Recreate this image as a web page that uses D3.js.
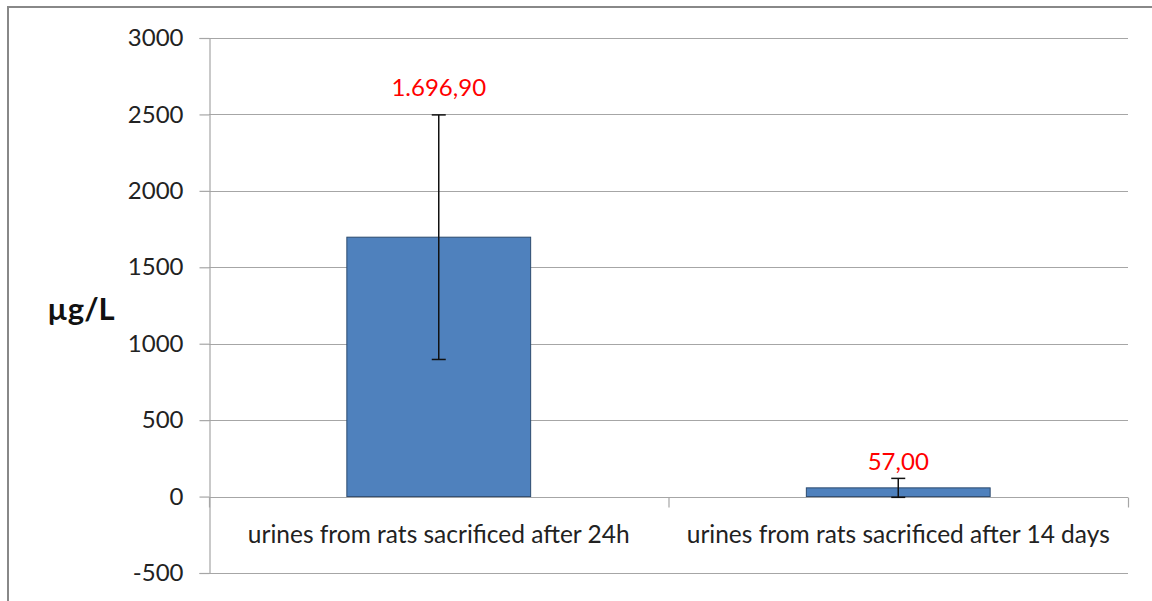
<!DOCTYPE html>
<html><head><meta charset="utf-8">
<script src="https://cdn.jsdelivr.net/npm/d3@7"></script>
<style>
html,body{margin:0;padding:0;background:#fff;}
svg{display:block;}
text{font-family:Lato,"Open Sans",sans-serif;fill:#222;}
</style></head>
<body><svg id="c" width="1152" height="601"></svg>
<script>
const categories = ["urines from rats sacrificed after 24h", "urines from rats sacrificed after 14 days"];
const values = [1696.9, 57.0];
const errors = [800, 62];
const valueLabels = ["1.696,90", "57,00"];
const yTicks = [-500, 0, 500, 1000, 1500, 2000, 2500, 3000];
const yLabel = "µg/L";

(function () {
const svg = d3.select("#c");
const pLeft = 209, pRight = 1128, pTop = 38, pBottom = 573;
const labelGap = [19, 8];

svg.append("rect").attr("x", 8).attr("y", 7).attr("width", 1160).attr("height", 620)
  .attr("fill", "none").attr("stroke", "#888").attr("stroke-width", 2);

const y = d3.scaleLinear().domain([-500, 3000]).range([pBottom, pTop]);
const x = d3.scaleBand().domain(categories).range([pLeft, pRight]).paddingInner(0).paddingOuter(0);
const barW = x.bandwidth() * 0.4;

svg.append("g").selectAll("line").data(yTicks).join("line")
  .attr("x1", pLeft).attr("x2", pRight)
  .attr("y1", d => Math.round(y(d)) + 0.5).attr("y2", d => Math.round(y(d)) + 0.5)
  .attr("stroke", "#a6a6a6").attr("stroke-width", 1.2);

const yAxis = d3.axisLeft(y).tickValues(yTicks).tickSize(10).tickPadding(16).tickFormat(d => String(d));
const ga = svg.append("g").attr("transform", `translate(${pLeft + 0.5},0)`).call(yAxis);
ga.select(".domain").attr("stroke", "#a6a6a6").attr("stroke-width", 1.2);
ga.selectAll(".tick line").attr("stroke", "#a6a6a6").attr("stroke-width", 1.2);
ga.selectAll(".tick text").style("font-size", "24px").style("font-family", "Lato,'Open Sans',sans-serif").attr("fill", "#222");

const y0 = Math.round(y(0)) + 0.5;
svg.append("g").selectAll("line").data([pLeft, pLeft + x.bandwidth(), pRight]).join("line")
  .attr("x1", d => d + 0.5).attr("x2", d => d + 0.5).attr("y1", y0).attr("y2", y0 + 10)
  .attr("stroke", "#a6a6a6").attr("stroke-width", 1.2);

svg.append("g").selectAll("rect").data(values).join("rect")
  .attr("x", (d, i) => x(categories[i]) + (x.bandwidth() - barW) / 2)
  .attr("width", barW)
  .attr("y", d => y(Math.max(d, 0)))
  .attr("height", d => Math.abs(y(d) - y(0)))
  .attr("fill", "#4f81bd").attr("stroke", "#2c4a6e").attr("stroke-width", 1);

const eb = svg.append("g").attr("stroke", "#111").attr("stroke-width", 1.5);
values.forEach((v, i) => {
  const cx = x(categories[i]) + x.bandwidth() / 2;
  const yt = y(v + errors[i]), yb = y(v - errors[i]);
  eb.append("line").attr("x1", cx).attr("x2", cx).attr("y1", yt).attr("y2", yb);
  eb.append("line").attr("x1", cx - 7).attr("x2", cx + 7).attr("y1", yt).attr("y2", yt);
  eb.append("line").attr("x1", cx - 7).attr("x2", cx + 7).attr("y1", yb).attr("y2", yb);
});

svg.append("g").selectAll("text").data(values).join("text")
  .attr("x", (d, i) => x(categories[i]) + x.bandwidth() / 2)
  .attr("y", (d, i) => y(d + errors[i]) - labelGap[i])
  .attr("text-anchor", "middle").style("font-size", "24px").style("fill", "#ff0000")
  .text((d, i) => valueLabels[i]);

svg.append("g").selectAll("text").data(categories).join("text")
  .attr("x", d => x(d) + x.bandwidth() / 2).attr("y", 543)
  .attr("text-anchor", "middle").style("font-size", "24.5px")
  .text(d => d);

svg.append("text").attr("x", 81).attr("y", 320).attr("text-anchor", "middle")
  .style("font-size", "31px").style("font-weight", "bold").style("fill", "#111").text(yLabel);
})();
</script></body></html>
